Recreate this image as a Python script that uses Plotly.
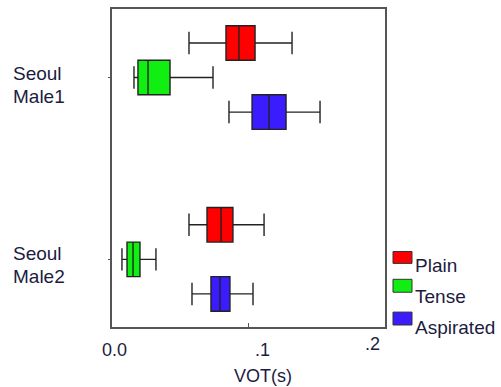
import plotly.graph_objects as go

speakers = ["Seoul Male1", "Seoul Male2"]
speaker_lines = [["Seoul", "Male1"], ["Seoul", "Male2"]]
series = ["Plain", "Tense", "Aspirated"]
colors = ["#ff0000", "#11ee11", "#3b1cff"]

lower = {"Plain": [0.0564, 0.0564], "Tense": [0.0161, 0.0073], "Aspirated": [0.0857, 0.0586]}
q1 = {"Plain": [0.0835, 0.0696], "Tense": [0.0190, 0.0110], "Aspirated": [0.1026, 0.0725]}
median = {"Plain": [0.0930, 0.0799], "Tense": [0.0264, 0.0154], "Aspirated": [0.1150, 0.0791]}
q3 = {"Plain": [0.1048, 0.0886], "Tense": [0.0425, 0.0205], "Aspirated": [0.1275, 0.0864]}
upper = {"Plain": [0.1319, 0.1114], "Tense": [0.0740, 0.0322], "Aspirated": [0.1524, 0.1033]}

x_tickvals = [0.0, 0.1, 0.2]
x_ticktext = ["0.0", ".1", ".2"]
x_title = "VOT(s)"

W, H = 501, 387
L, R, T, B = 112, 116, 7, 60
pw, ph = W - L - R, H - T - B

def px_x(p):
    return (p - L) / pw

def px_y(p):
    return (H - B - p) / ph

fig = go.Figure()
for s, c in zip(series, colors):
    fig.add_trace(go.Box(
        y=speakers, q1=q1[s], median=median[s], q3=q3[s],
        lowerfence=lower[s], upperfence=upper[s],
        orientation="h", name=s, fillcolor=c,
        line=dict(color="#222222", width=1.4),
        whiskerwidth=0.65, boxpoints=False, showlegend=False,
    ))

font_col = "#1c1c40"
fs = 18
fig.update_layout(
    width=W, height=H, margin=dict(l=L, r=R, t=T, b=B),
    paper_bgcolor="white", plot_bgcolor="white",
    boxmode="group", boxgap=0.43, boxgroupgap=0.0,
    font=dict(family="Liberation Sans, Arial, sans-serif", size=fs, color=font_col),
    xaxis=dict(range=[0, 0.2], tickvals=x_tickvals, showticklabels=False,
               showgrid=False, zeroline=False, showline=True, mirror=True,
               linecolor="#555555", linewidth=1.5, ticks="inside", ticklen=4,
               tickcolor="#555555"),
    yaxis=dict(type="category", categoryarray=speakers, range=[1.372, -0.377],
               showgrid=False, zeroline=False, showline=True, mirror=True,
               linecolor="#555555", linewidth=1.5, ticks="outside", ticklen=2,
               tickcolor="#555555", showticklabels=False),
)

# x tick labels (positions slightly offset as in the original)
for v, t, dx, cy in zip(x_tickvals, x_ticktext, [2, 14, -13], [350, 350, 344]):
    fig.add_annotation(text=t, xref="x", yref="paper", x=v, xshift=dx, y=px_y(cy),
                       xanchor="center", yanchor="middle", showarrow=False,
                       font=dict(size=fs, color=font_col))
fig.add_annotation(text=x_title, xref="paper", yref="paper", x=px_x(263), y=px_y(376),
                   xanchor="center", yanchor="middle", showarrow=False,
                   font=dict(size=fs, color=font_col))

# speaker labels
for lines, ys in zip(speaker_lines, [(72, 95), (253, 276)]):
    for txt, cy in zip(lines, ys):
        fig.add_annotation(text=txt, xref="paper", yref="paper", x=px_x(11), y=px_y(cy),
                           xanchor="left", yanchor="middle", align="left", showarrow=False,
                           font=dict(size=fs + 1, color=font_col))

# legend drawn manually
leg = [(251, 263, 265), (279, 292, 296), (312, 325, 327)]
for (y0, y1, ty), s, c in zip(leg, series, colors):
    fig.add_shape(type="rect", xref="paper", yref="paper",
                  x0=px_x(393), x1=px_x(412), y0=px_y(y1), y1=px_y(y0),
                  fillcolor=c, line=dict(color="#333333", width=1))
    fig.add_annotation(text=s, xref="paper", yref="paper", x=px_x(413), y=px_y(ty),
                       xanchor="left", yanchor="middle", showarrow=False,
                       font=dict(size=fs + 1, color=font_col))

fig.write_html("out.html", config={"displayModeBar": False},
               post_script="document.body.style.margin='0';document.body.style.overflow='hidden';")
